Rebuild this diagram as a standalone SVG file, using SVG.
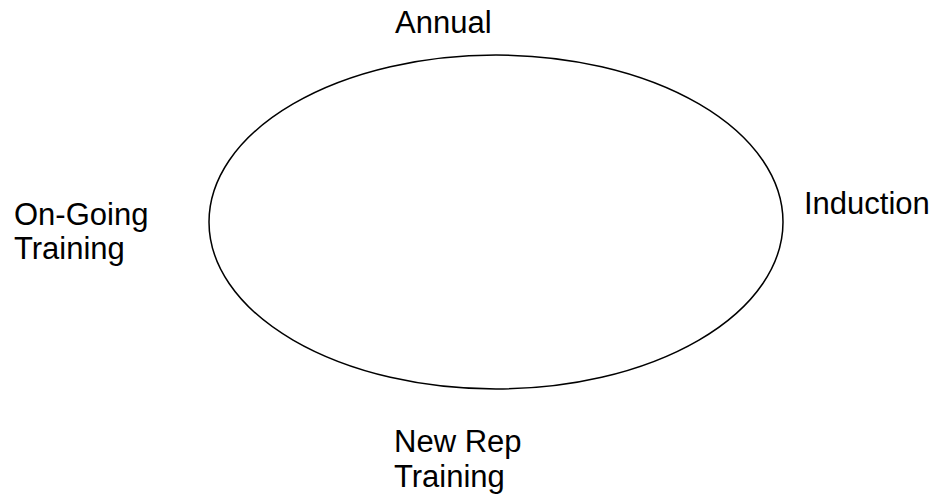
<svg xmlns="http://www.w3.org/2000/svg" width="936" height="495" viewBox="0 0 936 495">
<style>
.lbl{font-family:"Liberation Sans",Arial,sans-serif;font-size:31px;fill:#000}
.cyc{fill:none;stroke:#000;stroke-width:1.5}
</style>
<rect width="936" height="495" fill="#fff"/>
<g id="connectors">
<ellipse class="cyc" cx="496" cy="222" rx="287" ry="167"/>
</g>
<g id="annual"><text class="lbl" x="395" y="33">Annual</text></g>
<g id="induction"><text class="lbl" x="804" y="214">Induction</text></g>
<g id="ongoing"><text class="lbl" x="14" y="225">On-Going</text><text class="lbl" x="14" y="259">Training</text></g>
<g id="newrep"><text class="lbl" x="394" y="452">New Rep</text><text class="lbl" x="394" y="487">Training</text></g>
</svg>
